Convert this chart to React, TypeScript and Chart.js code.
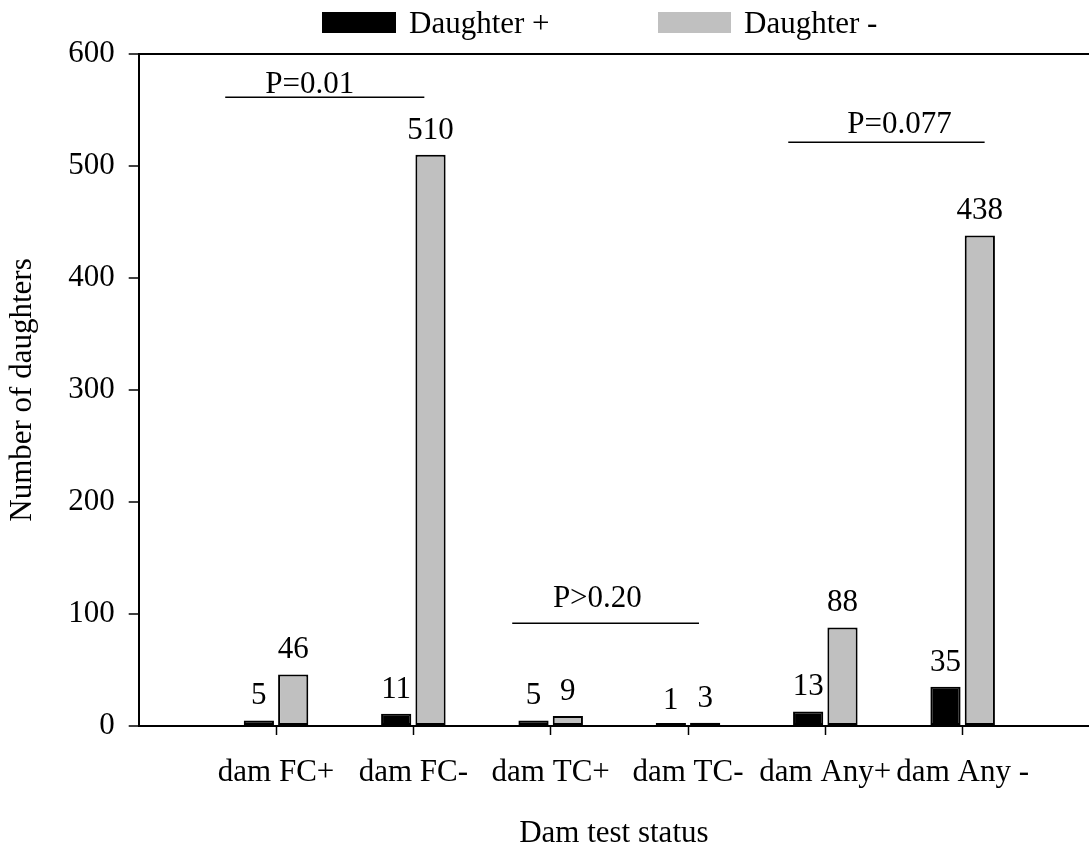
import React, { useEffect, useRef } from 'react';
import { Chart, registerables } from 'chart.js';

Chart.register(...registerables);

// ---- data ----
const categories = ['dam FC+', 'dam FC-', 'dam TC+', 'dam TC-', 'dam Any+', 'dam Any -'];
const seriesLabels = ['Daughter +', 'Daughter -'];
const daughterPos = [5, 11, 5, 1, 13, 35];
const daughterNeg = [46, 510, 9, 3, 88, 438];
const seriesColors = ['#000000', '#C0C0C0'];

// significance annotations (x in category units, y in data units)
const pLabels = ['P=0.01', 'P>0.20', 'P=0.077'];
const pLineStart = [0.63, 2.72, 4.73];
const pLineEnd = [2.08, 4.08, 6.16];
const pLineY = [562, 92, 521];
const pTextX = [1.245, 3.34, 5.54];
const pTextY = [565, 106, 529.5];

const FONT_FAMILY = '"Liberation Serif", "Times New Roman", Times, serif';
const FONT = { family: FONT_FAMILY, size: 31 };

const valueLabelPlugin = {
  id: 'valueLabels',
  afterDatasetsDraw(chart: any) {
    const ctx = chart.ctx;
    ctx.save();
    ctx.font = `31px ${FONT_FAMILY}`;
    ctx.fillStyle = '#000';
    ctx.textAlign = 'center';
    ctx.textBaseline = 'alphabetic';
    chart.data.datasets.forEach((ds: any, i: number) => {
      const meta = chart.getDatasetMeta(i);
      meta.data.forEach((el: any, j: number) => {
        const v = ds.data[j].y;
        const yTop = chart.scales.y.getPixelForValue(v);
        ctx.fillText(String(v), el.x, yTop - 16);
      });
    });
    ctx.restore();
  },
};

const annotationPlugin = {
  id: 'pAnnotations',
  afterDatasetsDraw(chart: any) {
    const ctx = chart.ctx;
    const xs = chart.scales.x;
    const ys = chart.scales.y;
    ctx.save();
    ctx.strokeStyle = '#000';
    ctx.lineWidth = 1.5;
    ctx.fillStyle = '#000';
    ctx.font = `31px ${FONT_FAMILY}`;
    ctx.textAlign = 'center';
    ctx.textBaseline = 'alphabetic';
    pLabels.forEach((lab, i) => {
      const y = Math.round(ys.getPixelForValue(pLineY[i])) + 0.25;
      ctx.beginPath();
      ctx.moveTo(xs.getPixelForValue(pLineStart[i]), y);
      ctx.lineTo(xs.getPixelForValue(pLineEnd[i]), y);
      ctx.stroke();
      ctx.fillText(lab, xs.getPixelForValue(pTextX[i]), ys.getPixelForValue(pTextY[i]));
    });
    ctx.restore();
  },
};

const legendPlugin = {
  id: 'customLegend',
  afterDraw(chart: any) {
    const ctx = chart.ctx;
    const boxX = [322, 658];
    const boxW = [74, 73];
    ctx.save();
    ctx.font = `31px ${FONT_FAMILY}`;
    ctx.textAlign = 'left';
    ctx.textBaseline = 'alphabetic';
    chart.data.datasets.forEach((ds: any, i: number) => {
      ctx.fillStyle = ds.backgroundColor;
      ctx.fillRect(boxX[i], 12, boxW[i], 21);
      ctx.fillStyle = '#000';
      ctx.fillText(ds.label, boxX[i] + boxW[i] + 13, 33);
    });
    ctx.restore();
  },
};

export default function App() {
  const canvasRef = useRef<HTMLCanvasElement | null>(null);

  useEffect(() => {
    document.body.style.margin = '0';
    const canvas = canvasRef.current;
    if (!canvas) return;
    const seriesValues = [daughterPos, daughterNeg];
    const chart = new Chart(canvas, {
      type: 'bar',
      data: {
        datasets: seriesValues.map((vals, i) => ({
          label: seriesLabels[i],
          data: vals.map((v, j) => ({ x: j + 1, y: v })),
          backgroundColor: seriesColors[i],
          borderColor: '#000',
          borderWidth: 2,
          borderSkipped: false,
          minBarLength: 3,
          categoryPercentage: 0.5,
          barPercentage: 0.88,
        })),
      },
      options: {
        responsive: false,
        animation: false,
        devicePixelRatio: 1,
        layout: { padding: { top: 54, right: 0, left: 0, bottom: 0 } },
        plugins: {
          legend: { display: false },
          tooltip: { enabled: false },
          title: { display: false },
        },
        scales: {
          x: {
            type: 'linear',
            offset: false,
            min: 0,
            max: 6.92,
            afterBuildTicks: (axis: any) => {
              axis.ticks = categories.map((_, i) => ({ value: i + 1 }));
            },
            ticks: {
              font: FONT,
              color: '#000',
              padding: 19,
              maxRotation: 0,
              autoSkip: false,
              callback: (v: any) => categories[Math.round(v) - 1] ?? '',
            },
            grid: {
              offset: false,
              drawOnChartArea: false,
              drawTicks: true,
              tickLength: 9,
              tickColor: '#000',
              tickWidth: 1.5,
            },
            border: { color: '#000', width: 2 },
            title: {
              display: true,
              text: 'Dam test status',
              font: FONT,
              color: '#000',
              padding: { top: 4.6, bottom: -7 },
            },
          },
          y: {
            min: 0,
            max: 600,
            ticks: {
              stepSize: 100,
              font: FONT,
              color: '#000',
              padding: 14,
            },
            grid: {
              color: (c: any) => (c.tick && c.tick.value === 600 ? '#000' : 'rgba(0,0,0,0)'),
              lineWidth: 2,
              tickLength: 10,
              tickColor: '#000',
              tickWidth: 1.5,
            },
            border: { color: '#000', width: 2 },
            title: {
              display: true,
              text: 'Number of daughters',
              font: FONT,
              color: '#000',
              padding: { top: 4, bottom: 13 },
            },
          },
        },
      } as any,
      plugins: [valueLabelPlugin, annotationPlugin, legendPlugin],
    });
    return () => chart.destroy();
  }, []);

  return (
    <div style={{ width: 1089, height: 845, background: '#fff' }}>
      <canvas ref={canvasRef} width={1089} height={845} style={{ display: 'block' }} />
    </div>
  );
}
